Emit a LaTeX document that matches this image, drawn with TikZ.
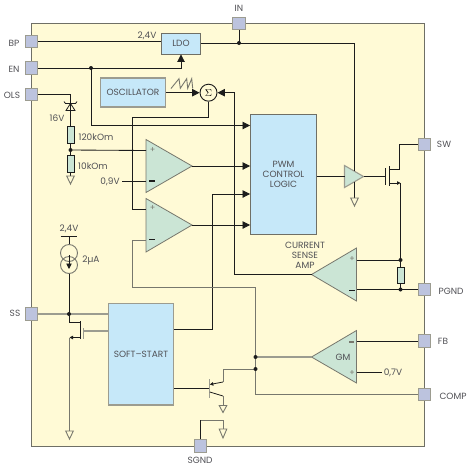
\documentclass[tikz,border=0pt]{standalone}
\usepackage{fontspec}
\setmainfont{Poppins}
\usetikzlibrary{arrows.meta}
\definecolor{bgY}{HTML}{FFFAD6}
\definecolor{frameC}{HTML}{6F6F66}
\definecolor{pinC}{HTML}{BCC3DE}
\definecolor{blueC}{HTML}{C6E8F9}
\definecolor{greenC}{HTML}{CBE5D5}
\definecolor{wireC}{HTML}{1C1C1C}
\definecolor{grayW}{HTML}{77776D}
\definecolor{paleW}{HTML}{9C9C90}
\definecolor{txtC}{HTML}{505055}
\tikzset{
  pin/.style={draw=paleW,fill=pinC,line width=0.9pt,minimum size=12.5pt,inner sep=0pt},
  block/.style={draw=frameC,fill=blueC,line width=0.9pt,inner sep=0pt,font=\fontsize{9}{10.3}\selectfont,text=txtC,align=center},
  lab/.style={font=\fontsize{9}{10}\selectfont,text=txtC,align=center,inner sep=0pt},
  wire/.style={draw=wireC,line width=0.85pt},
  gwire/.style={draw=grayW,line width=0.9pt},
  pwire/.style={draw=paleW,line width=1.3pt},
  amp/.style={draw=grayW,fill=greenC,line width=0.8pt,line join=miter},
  res/.style={draw=wireC,fill=greenC,line width=0.7pt,minimum width=7pt,minimum height=16.5pt,inner sep=0pt},
  gnd/.style={draw=grayW,line width=0.9pt,line join=miter},
  dotn/.style={circle,fill=wireC,minimum size=4pt,inner sep=0pt},
  arr/.style={-{Triangle[length=7.5pt,width=7.5pt]}},
  marr/.style={-{Triangle[length=5.5pt,width=5.5pt]}},
  sarr/.style={-{Triangle[length=3.5pt,width=3.5pt]}},
  sign/.style={font=\fontsize{8}{9}\selectfont,text=grayW,inner sep=0pt},
  minusn/.style={fill=wireC,minimum width=5.5pt,minimum height=1.3pt,inner sep=0pt}
}
\newcommand{\gndsym}[3]{\draw[gnd] (#1-3.8,#2) -- (#1+3.8,#2) -- (#1,#3) -- cycle;}
\begin{document}
\begin{tikzpicture}[x=1pt,y=-1pt]
\useasboundingbox (0,0) rectangle (470,469);
\draw[draw=frameC,fill=bgY,line width=0.9pt] (31.5,23.5) rectangle (424.5,446);

% blocks
\node[block,minimum width=39pt,minimum height=21pt] (ldo) at (181,43.5) {LDO};
\node[block,minimum width=65pt,minimum height=29pt,line width=1.1pt,draw=paleW] (osc) at (133,92.5) {OSCILLATOR};
\node[block,minimum width=66pt,minimum height=120pt] (pwm) at (283.5,174.5) {PWM\\CONTROL\\LOGIC};
\node[block,minimum width=65pt,minimum height=101.5pt,draw=paleW,line width=1.1pt] (soft) at (141,354.2) {SOFT–START};
\node[circle,draw=wireC,fill=bgY,line width=0.9pt,minimum size=17pt,inner sep=0pt] (sig) at (208.5,92.7) {$\Sigma$};

% junctions
\coordinate (inj) at (239,43);
\coordinate (enj) at (91,68);
\coordinate (divj) at (70.5,150);
\coordinate (ssj) at (69,314);
\coordinate (gmj) at (255.5,357);
\coordinate (qj) at (255.5,369);
\coordinate (rtop) at (400.5,260);
\coordinate (rbot) at (400.5,289.5);

% amplifiers
\draw[amp] (146,139.5) coordinate (a1t) -- (192,166) coordinate (a1o) -- (146,192.5) coordinate (a1b) -- cycle;
\draw[amp] (146,198.5) coordinate (a2t) -- (192,225) coordinate (a2o) -- (146,252) coordinate (a2b) -- cycle;
\draw[amp] (356.5,248) -- (311.5,274.5) coordinate (cso) -- (356.5,301) -- cycle;
\draw[amp] (356.5,330.5) -- (311.5,357) coordinate (gmo) -- (356.5,383) -- cycle;
\draw[amp,line width=1.1pt,draw=paleW] (344.5,165.5) -- (363.5,176.5) coordinate (bufo) -- (344.5,187.5) -- cycle;
\coordinate (a1p) at (146,150.5);
\coordinate (a1m) at (146,181.5);
\coordinate (a2p) at (146,209);
\coordinate (a2m) at (146,240);
\coordinate (csp) at (356.5,260);
\coordinate (csm) at (356.5,289.5);
\coordinate (gmm) at (356.5,341);
\coordinate (gmp) at (356.5,372.5);
\coordinate (bufi) at (344.5,176.5);
\coordinate (bufa) at (354.5,171);
\coordinate (bufb) at (354.5,182);
\node[sign] (s1) at (152.5,150) {+};
\node[sign] (s3) at (152.5,208.5) {+};
\node[sign] (s5) at (352,259.5) {+};
\node[sign] (s7) at (352,373) {+};
\node[minusn] (s2) at (152,181) {};
\node[minusn] (s4) at (152,239.5) {};
\node[minusn] (s6) at (352,290.5) {};
\node[minusn,fill=grayW,minimum width=5pt] (s8) at (351.5,342) {};
\node[lab] (gmt) at (343,357) {GM};

% pins
\node[pin] (bp) at (31.5,41.5) {};
\node[pin] (en) at (31.5,68) {};
\node[pin] (ols) at (31.5,94.5) {};
\node[pin] (in) at (239,23.5) {};
\node[pin] (sw) at (424.5,144.5) {};
\node[pin] (pgnd) at (424.5,289.5) {};
\node[pin] (fb) at (424.5,341) {};
\node[pin] (comp) at (424.5,394.5) {};
\node[pin] (ss) at (31.5,314) {};
\node[pin] (sgnd) at (200.5,446) {};

% pin labels
\node[lab] (lbp) at (14,43) {BP};
\node[lab] (len) at (14,69.5) {EN};
\node[lab] (lols) at (12,95) {OLS};
\node[lab] (lin) at (239,8) {IN};
\node[lab] (lsw) at (444,144.5) {SW};
\node[lab] (lpg) at (451,291) {PGND};
\node[lab] (lfb) at (443,341) {FB};
\node[lab] (lco) at (453,396) {COMP};
\node[lab] (lss) at (15,313) {SS};
\node[lab] (lsg) at (200,460) {SGND};

% other labels
\node[lab] (v24a) at (147,36) {2,4V};
\node[lab] (v16) at (57,118) {16V};
\node[lab] (r1t) at (96,137) {120kOm};
\node[lab] (r2t) at (93,166) {10kOm};
\node[lab] (v09) at (110,182) {0,9V};
\node[lab] (v24b) at (69,229) {2,4V};
\node[lab] (ua) at (91,260) {2µA};
\node[lab] (cs) at (305,255) {CURRENT\\SENSE\\AMP};
\node[lab] (v07) at (393,373) {0,7V};

% resistors
\node[res] (r1) at (70.5,135) {};
\node[res] (r2) at (70.5,164) {};
\node[res] (r3) at (400.5,275.5) {};

% top wires
\draw[wire] (bp.east) -- (ldo.west |- bp.east);
\draw[wire] (ldo.east |- inj) -- (inj);
\draw[wire] (in.south) -- (inj);
\draw[wire] (inj) -| (bufa);
\draw[wire,arr] (en.east) -| (ldo.south);
\draw[wire,arr] (enj) |- (pwm.west |- 0,125.5);
\draw[wire,arr] (osc.east |- sig.west) -- (sig.west);
\draw[wire] (sig.south) |- (132.5,117) |- (a2p);
\draw[wire,arr] (cso) -| (234.5,92.7) -- (sig.east);

% OLS divider
\coordinate (zt) at (70.5,103.5);
\coordinate (zb) at (70.5,110.5);
\draw[wire] (ols.east) -| (zt);
\draw[wire] (zt) -- (zb) -- (r1.north);
\draw[wire] (r1.south) -- (divj) -- (r2.north);
\draw[wire] (r2.south) -- (70.5,176);
\draw[wire] (divj) -- (a1p);
\draw[draw=wireC,line width=0.8pt,line join=miter] (64,101.5) -- (65.5,103.5) -- (75.5,103.5) -- (77,101.5);
\draw[draw=wireC,line width=0.8pt,line join=miter] (70.5,103.5) -- (66,110.5) -- (75,110.5) -- cycle;
\gndsym{70.5}{176}{184}
\coordinate (v09e) at (122,181.5);
\draw[wire] (v09e) -- (a1m);

% to PWM
\draw[wire,arr] (a1o) -- (pwm.west |- a1o);
\draw[wire,arr] (a2o) -- (pwm.west |- a2o);
\draw[wire,arr] (soft.east |- 0,329) -| (212.5,194) -- (pwm.west |- 0,194);

% buffer and mosfet
\draw[wire] (pwm.east |- bufi) -- (bufi);
\draw[wire] (bufb) -- (354.5,198);
\gndsym{354.5}{198}{206}
\coordinate (gbar) at (385.5,176.5);
\coordinate (mdr) at (389,169.5);
\coordinate (msr) at (389,183);
\draw[wire] (bufo) -- (gbar);
\draw[wire] (385.5,168) -- (385.5,185);
\draw[wire] (389,166) -- (389,186);
\draw[wire] (mdr) -| (399.5,144.5) -- (sw.west);
\draw[wire,sarr] (msr) -- (400.5,183);
\draw[wire] (400.5,183) -- (r3.north);
\draw[wire] (r3.south) -- (rbot);

% current sense
\draw[wire] (csp) -- (rtop);
\draw[wire] (csm) -- (pgnd.west);

% GM, COMP
\draw[wire] (gmm) -- (fb.west);
\draw[wire] (gmp) -- (382,372.5);
\draw[pwire] (gmo) -- (gmj);
\draw[gwire] (a2m) -| (132.5,287) -| (qj);
\draw[gwire] (qj) |- (comp.west);

% PNP
\coordinate (qb) at (209.5,388.5);
\draw[wire] (soft.east |- qb) -- (qb);
\draw[draw=paleW,line width=1.2pt] (209.5,379) -- (209.5,397.5);
\draw[gwire] (qj) -| (223,382);
\draw[draw=wireC,line width=0.8pt,sarr] (223,382) -- (209.8,384.5);
\draw[draw=wireC,line width=0.8pt] (209.8,392) -- (223,396);
\draw[gwire] (223,396) -- (223,405.5);
\gndsym{223}{405.5}{412.5}

% SGND
\draw[wire] (sgnd.north) -- (200.5,420);
\draw[gwire] (200.5,420) -- (223,420) -- (223,429);
\gndsym{223}{429}{438}

% current source
\draw[wire] (60.5,236) -- (77,236);
\draw[wire] (69,236) -- (69,243.5);
\draw[draw=grayW,line width=0.9pt] (69,253) circle (8.5);
\draw[draw=grayW,line width=0.9pt] (69,265) circle (8.5);
\draw[wire,marr] (69,255) -- (69,269);
\draw[wire] (69,273.5) -- (ssj);

% SS
\draw[pwire] (ss.east) -- (soft.west |- ss.east);
\draw[wire] (ssj) |- (80.5,322);
\draw[draw=wireC,line width=0.9pt] (80.5,321) -- (80.5,339);
\draw[draw=paleW,line width=1.1pt] (83.5,328) -- (83.5,339);
\draw[pwire] (83.5,331) -- (soft.west |- 0,331);
\draw[wire,sarr] (80.5,337.5) -- (69.5,337.5);
\draw[gwire] (69.5,337.5) -- (69.5,431);
\gndsym{69.5}{431}{439}

% saw
\draw[draw=grayW,line width=0.9pt,line join=miter] (171,88.5) -- (179,78.7) -- (180.3,88.3) -- (186.7,78.7) -- (187.7,88.3) -- (191.7,78.7) -- (192.7,88.3);

% dots
\node[dotn] at (inj) {};
\node[dotn] at (enj) {};
\node[dotn] at (divj) {};
\node[dotn] at (ssj) {};
\node[dotn] at (gmj) {};
\node[dotn] at (qj) {};
\node[dotn] at (rtop) {};
\node[dotn] at (rbot) {};
\end{tikzpicture}
\end{document}
